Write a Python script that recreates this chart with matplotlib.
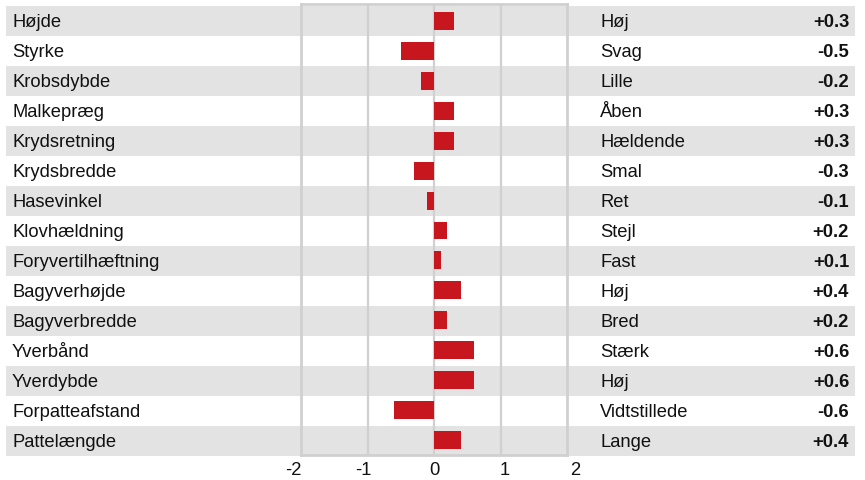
import matplotlib
matplotlib.use("Agg")
import matplotlib.pyplot as plt

features = ["Højde", "Styrke", "Krobsdybde", "Malkepræg", "Krydsretning", "Krydsbredde",
            "Hasevinkel", "Klovhældning", "Foryvertilhæftning", "Bagyverhøjde",
            "Bagyverbredde", "Yverbånd", "Yverdybde", "Forpatteafstand", "Pattelængde"]
descriptors = ["Høj", "Svag", "Lille", "Åben", "Hældende", "Smal", "Ret", "Stejl", "Fast",
               "Høj", "Bred", "Stærk", "Høj", "Vidtstillede", "Lange"]
values = [0.3, -0.5, -0.2, 0.3, 0.3, -0.3, -0.1, 0.2, 0.1, 0.4, 0.2, 0.6, 0.6, -0.6, 0.4]
tick_values = [-2, -1, 0, 1, 2]

W, H = 865, 481
plt.rcParams['font.family'] = ['Liberation Sans', 'DejaVu Sans']
fig = plt.figure(figsize=(W / 100, H / 100), dpi=100)

n = len(features)
top_px, bot_px = 7, 457
fb = (H - bot_px) / H
fh = (bot_px - top_px) / H

BAND = "#e3e3e3"
GRID = "#d0d0d0"
RED = "#c8161e"
TXT = "#111111"
FS = 13.2

# background axis for bands and text
bg = fig.add_axes([0, fb, 1, fh])
bg.set_xlim(0, W)
bg.set_ylim(n - 0.5, -0.5)
bg.axis("off")
for i in range(n):
    if i % 2 == 0:
        bg.axhspan(i - 0.5, i + 0.5, xmin=6 / W, xmax=855 / W, color=BAND, lw=0, zorder=0)
    bg.text(12, i + 0.03, features[i], ha="left", va="center", fontsize=FS, color=TXT)
    bg.text(600, i + 0.03, descriptors[i], ha="left", va="center", fontsize=FS, color=TXT)
    bg.text(849, i + 0.03, f"{values[i]:+.1f}", ha="right", va="center", fontsize=FS,
            color=TXT, fontweight="bold")

# bar axis
ax = fig.add_axes([301 / W, (H - 456) / H, (567 - 301) / W, (456 - 5) / H])
ax.patch.set_alpha(0)
ax.set_xlim(-2, 2)
row_h = (bot_px - top_px) / n
ax.set_ylim(n - 0.5, -0.5 - (7 - 5) / row_h)
for s in ax.spines.values():
    s.set_color(GRID)
    s.set_linewidth(2)
for t in tick_values[1:-1]:
    ax.axvline(t, color=GRID, lw=1.6, zorder=1)
ax.barh(range(n), values, height=0.6, color=RED, zorder=3)
ax.set_xticks([])
ax.set_yticks([])

# tick label axis
tx = fig.add_axes([293 / W, (H - 456) / H, (575 - 293) / W, 0.001])
tx.set_xlim(-2, 2)
tx.set_xticks(tick_values)
tx.set_xticklabels([str(v) for v in tick_values], fontsize=FS, color=TXT)
tx.tick_params(axis="x", length=0, pad=4)
tx.set_yticks([])
for s in tx.spines.values():
    s.set_visible(False)
tx.patch.set_alpha(0)

fig.savefig("out.png", dpi=100)
